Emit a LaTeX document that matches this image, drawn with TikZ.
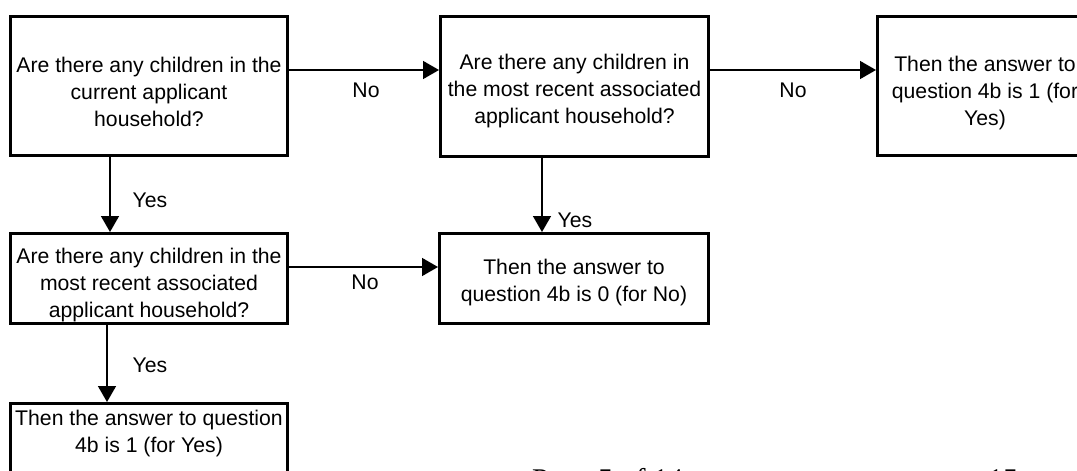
\documentclass[tikz,border=0pt]{standalone}
\usepackage{fontspec}
\setmainfont{Liberation Sans}
\newfontfamily\footfont{Liberation Serif}
\usetikzlibrary{arrows.meta}
\tikzset{
  box/.style={draw, line width=3pt, inner sep=0pt},
  txt/.style={inner sep=0pt, align=center, font=\fontsize{21.2}{27}\selectfont},
  arr/.style={line width=1.5pt, -{Triangle[length=16pt,width=18pt]}},
  lbl/.style={inner sep=0pt, font=\fontsize{21.2}{27}\selectfont},
  foot/.style={inner sep=0pt, anchor=base west, font=\footfont\fontsize{30}{36}\selectfont}
}
\begin{document}
\begin{tikzpicture}[x=1pt,y=-1pt]
\useasboundingbox (0,0) rectangle (1077,471);
\clip (0,0) rectangle (1077,471);
\fill[white] (0,0) rectangle (1077,471);
\node[box, minimum width=277pt, minimum height=139pt] (b1) at (149,86) {};
\node[box, minimum width=268pt, minimum height=140pt] (b2) at (574.5,86.5) {};
\node[box, minimum width=215pt, minimum height=139pt] (b3) at (985,86) {};
\node[box, minimum width=277pt, minimum height=90pt] (b4) at (149,278.5) {};
\node[box, minimum width=269pt, minimum height=90pt] (b5) at (574,278.5) {};
\node[box, minimum width=277pt, minimum height=90pt] (b6) at (149,448.5) {};
\node[txt] (t1) at ([yshift=-6pt]b1.center)
  {Are there any children in the\\current applicant\\household?};
\node[txt] (t2) at ([yshift=-5pt]b2.center)
  {Are there any children in\\the most recent associated\\applicant household?};
\node[txt] (t3) at ([yshift=-7pt]b3.center)
  {Then the answer to\\question 4b is 1 (for\\Yes)};
\node[txt] (t4) at ([yshift=-7pt]b4.center)
  {Are there any children in the\\most recent associated\\applicant household?};
\node[txt] (t5) at ([yshift=-4pt]b5.center)
  {Then the answer to\\question 4b is 0 (for No)};
\node[txt] (t6) at ([yshift=15pt]b6.center)
  {Then the answer to question\\4b is 1 (for Yes)};
\draw[arr] (b1.east |- 0,70) -- (b2.west |- 0,70);
\draw[arr] (b2.east |- 0,70) -- (b3.west |- 0,70);
\draw[arr] (b1.south -| 110,0) -- (b4.north -| 110,0);
\draw[arr] (b2.south -| 542,0) -- (b5.north -| 542,0);
\draw[arr] (b4.east |- 0,267) -- (b5.west |- 0,267);
\draw[arr] (b4.south -| 107,0) -- (b6.north -| 107,0);
\node[lbl] (n1) at (366,90) {No};
\node[lbl] (n2) at (793,90) {No};
\node[lbl] (n3) at (365,282) {No};
\node[lbl] (y1) at (150,200) {Yes};
\node[lbl] (y2) at (575,220) {Yes};
\node[lbl] (y3) at (150,365) {Yes};
\node[foot] (pg) at (532,489) {Page 5 of 14};
\node[foot] (pn) at (988,489) {15};
\end{tikzpicture}
\end{document}
